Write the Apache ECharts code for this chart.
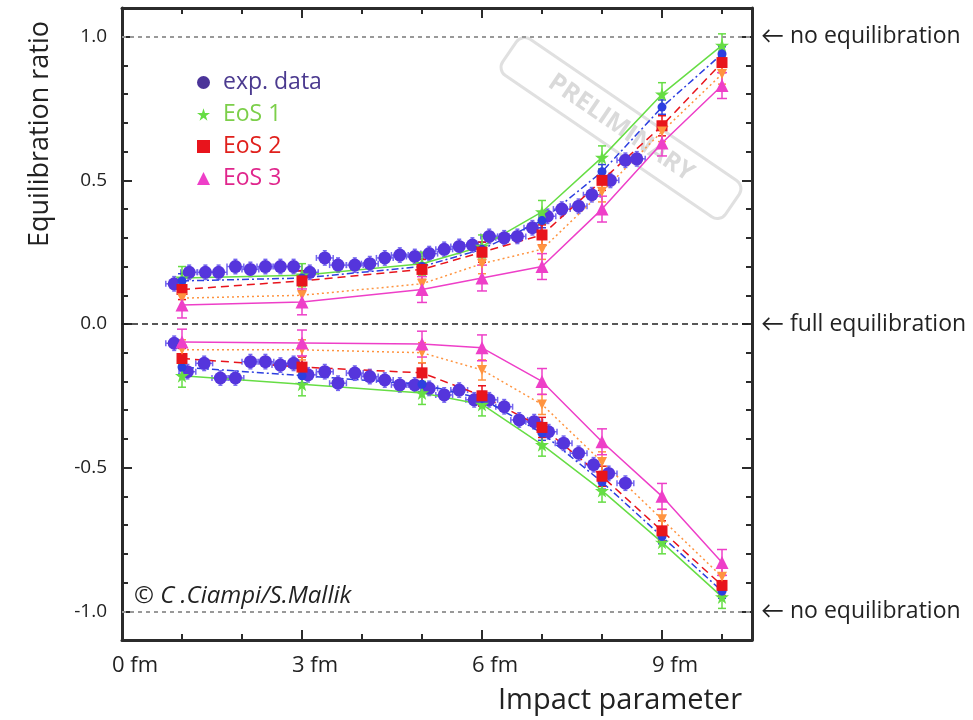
<!DOCTYPE html>
<html>
<head>
<meta charset="utf-8">
<script src="https://cdn.jsdelivr.net/npm/echarts@6/dist/echarts.min.js"></script>
<style>
  html, body { margin: 0; padding: 0; background: #fff; }
  #chart { width: 973px; height: 720px; }
</style>
</head>
<body>
<div id="chart"></div>
<script>
// ---- data ----
const xTicks = [0, 3, 6, 9];
const xMinorTicks = [1, 2, 4, 5, 7, 8, 10];
const yTicks = [-1, -0.5, 0, 0.5, 1];
const yMinorTicks = [-0.9, -0.8, -0.7, -0.6, -0.4, -0.3, -0.2, -0.1, 0.1, 0.2, 0.3, 0.4, 0.6, 0.7, 0.8, 0.9];

// experimental data (upper / lower branch)
const expUpX = [0.87, 1.12, 1.39, 1.61, 1.89, 2.14, 2.39, 2.64, 2.86, 3.13, 3.38, 3.6, 3.88, 4.13, 4.38, 4.63,
  4.88, 5.12, 5.37, 5.62, 5.84, 6.12, 6.37, 6.59, 6.84, 7.09, 7.33, 7.61, 7.83, 8.14, 8.39, 8.58];
const expUpY = [0.14, 0.18, 0.18, 0.18, 0.2, 0.19, 0.2, 0.2, 0.2, 0.18, 0.23, 0.205, 0.205, 0.21, 0.23, 0.24,
  0.235, 0.245, 0.26, 0.27, 0.275, 0.305, 0.3, 0.305, 0.335, 0.375, 0.4, 0.41, 0.45, 0.5, 0.57, 0.575];
const expLoX = [0.87, 1.09, 1.37, 1.64, 1.89, 2.14, 2.39, 2.64, 2.86, 3.1, 3.38, 3.6, 3.88, 4.13, 4.38, 4.63,
  4.88, 5.12, 5.37, 5.62, 5.87, 6.12, 6.37, 6.62, 6.87, 7.11, 7.36, 7.61, 7.86, 8.11, 8.39];
const expLoY = [-0.067, -0.166, -0.137, -0.188, -0.188, -0.131, -0.131, -0.143, -0.137, -0.177, -0.166, -0.206,
  -0.171, -0.183, -0.195, -0.212, -0.212, -0.224, -0.247, -0.23, -0.264, -0.264, -0.288, -0.334, -0.34,
  -0.375, -0.415, -0.45, -0.49, -0.52, -0.554];
const expErrX = 0.14;
const expErrY = 0.025;

// model calculations at fixed impact parameters
const modelX = [1, 3, 5, 6, 7, 8, 9, 10];
const eos1Up = [0.16, 0.17, 0.21, 0.27, 0.39, 0.58, 0.8, 0.97];
const eos1Lo = [-0.18, -0.21, -0.24, -0.28, -0.42, -0.58, -0.76, -0.95];
const dashUp = [0.15, 0.16, 0.2, 0.26, 0.36, 0.53, 0.755, 0.94];
const dashLo = [-0.15, -0.18, -0.21, -0.26, -0.38, -0.55, -0.74, -0.93];
const eos2Up = [0.12, 0.15, 0.19, 0.25, 0.31, 0.5, 0.69, 0.91];
const eos2Lo = [-0.12, -0.15, -0.17, -0.25, -0.36, -0.53, -0.72, -0.91];
const dotUp = [0.09, 0.1, 0.14, 0.21, 0.26, 0.46, 0.67, 0.87];
const dotLo = [-0.09, -0.09, -0.1, -0.16, -0.28, -0.48, -0.68, -0.88];
const eos3Up = [0.066, 0.077, 0.12, 0.16, 0.2, 0.4, 0.63, 0.83];
const eos3Lo = [-0.063, -0.066, -0.07, -0.083, -0.2, -0.41, -0.6, -0.83];
const modelErr = { eos1: 0.04, dash: 0.025, eos2: 0.035, dot: 0.035, eos3: 0.045 };

const refLines = [1, 0, -1];
const refLabels = ['← no equilibration', '← full equilibration', '← no equilibration'];

// ---- helpers ----
const FONT = "'Open Sans', Lato";
const starPath = 'path://M50,0 L61,35 L98,35 L68,57 L79,91 L50,70 L21,91 L32,57 L2,35 L39,35 Z';

function zip(xs, ys, ex, ey) {
  return xs.map((x, i) => [x, ys[i], ex, ey]);
}

// error bars drawn through the axes' own scale
function errorBars(color, cap) {
  return function (params, api) {
    const x = api.value(0), y = api.value(1), ex = api.value(2), ey = api.value(3);
    const lo = api.coord([x, y - ey]);
    const hi = api.coord([x, y + ey]);
    const st = { stroke: color, lineWidth: 1.5 };
    const kids = [
      { type: 'line', shape: { x1: lo[0], y1: lo[1], x2: hi[0], y2: hi[1] }, style: st },
      { type: 'line', shape: { x1: lo[0] - cap, y1: lo[1], x2: lo[0] + cap, y2: lo[1] }, style: st },
      { type: 'line', shape: { x1: hi[0] - cap, y1: hi[1], x2: hi[0] + cap, y2: hi[1] }, style: st }
    ];
    if (ex > 0) {
      const l = api.coord([x - ex, y]);
      const r = api.coord([x + ex, y]);
      kids.push({ type: 'line', shape: { x1: l[0], y1: l[1], x2: r[0], y2: r[1] }, style: st });
      kids.push({ type: 'line', shape: { x1: l[0], y1: l[1] - 3, x2: l[0], y2: l[1] + 3 }, style: st });
      kids.push({ type: 'line', shape: { x1: r[0], y1: r[1] - 3, x2: r[0], y2: r[1] + 3 }, style: st });
    }
    return { type: 'group', children: kids };
  };
}

function errSeries(name, data, color, cap) {
  return {
    name: name, type: 'custom', renderItem: errorBars(color, cap),
    data: data, silent: true, z: 2,
    encode: { x: 0, y: 1 }
  };
}

function modelSeries(name, ys, color, lineType, symbol, size, rotate) {
  return {
    name: name, type: 'line', data: modelX.map((x, i) => [x, ys[i]]),
    symbol: symbol, symbolSize: size, symbolRotate: rotate || 0, showSymbol: true,
    itemStyle: { color: color, opacity: 1 },
    lineStyle: { color: color, width: 1.5, type: lineType },
    z: 3, silent: true
  };
}

// grid 0 carries the frame + major ticks, grid 1 (same place) the minor ticks
const axisColor = '#2b2b2b';
function xAx(pos, major) {
  return {
    type: 'value', min: 0, max: 10.5, position: pos, gridIndex: major ? 0 : 1,
    axisLine: { show: major, onZero: false, lineStyle: { color: axisColor, width: 3 } },
    axisTick: { show: true, inside: true, length: major ? 10 : 6, customValues: major ? xTicks : xMinorTicks,
      lineStyle: { color: axisColor, width: 2 } },
    axisLabel: (pos === 'bottom' && major) ? {
      show: true, customValues: xTicks, formatter: v => v + ' fm', margin: 15,
      fontFamily: FONT, fontSize: 22, color: '#222', padding: [0, 0, 0, 26]
    } : { show: false },
    splitLine: { show: false }
  };
}
function yAx(pos, major) {
  return {
    type: 'value', min: -1.1, max: 1.1, position: pos, gridIndex: major ? 0 : 1,
    axisLine: { show: major, onZero: false, lineStyle: { color: axisColor, width: 3 } },
    axisTick: { show: true, inside: true, length: major ? 10 : 6, customValues: major ? yTicks : yMinorTicks,
      lineStyle: { color: axisColor, width: 2 } },
    axisLabel: (pos === 'left' && major) ? {
      show: true, customValues: yTicks, formatter: v => v.toFixed(1), margin: 15,
      fontFamily: FONT, fontSize: 19, color: '#222'
    } : { show: false },
    splitLine: { show: false }
  };
}

const chart = echarts.init(document.getElementById('chart'));
const gridBox = { left: 122, right: 221, top: 8, bottom: 80 };

const option = {
  animation: false,
  backgroundColor: '#fff',
  grid: [Object.assign({}, gridBox), Object.assign({}, gridBox)],
  xAxis: [xAx('bottom', true), xAx('top', true), xAx('bottom', false), xAx('top', false)],
  yAxis: [yAx('left', true), yAx('right', true), yAx('left', false), yAx('right', false)],
  legend: {
    orient: 'vertical', left: 192, top: 66, itemWidth: 13, itemHeight: 13, itemGap: 9,
    textStyle: { fontFamily: FONT, fontSize: 23, lineHeight: 23, padding: [0, 0, 0, 8] },
    selectedMode: false,
    data: [
      { name: 'exp. data', icon: 'circle', itemStyle: { color: '#4b3499' }, textStyle: { color: '#4b3a8f' } },
      { name: 'EoS 1', icon: starPath, textStyle: { color: '#7ccf4a' } },
      { name: 'EoS 2', icon: 'rect', textStyle: { color: '#e0201c' } },
      { name: 'EoS 3', icon: 'triangle', textStyle: { color: '#e0268c' } }
    ]
  },
  graphic: [
    {
      type: 'text', x: 40, y: 134, rotation: Math.PI / 2,
      style: { text: 'Equilibration ratio', fontFamily: FONT, fontSize: 27, fill: '#222',
        align: 'center', verticalAlign: 'middle' }
    },
    {
      type: 'text', x: 742, y: 701,
      style: { text: 'Impact parameter', fontFamily: FONT, fontSize: 29, fill: '#222',
        align: 'right', verticalAlign: 'middle' }
    },
    {
      type: 'text', x: 134, y: 596,
      style: { text: '© C .Ciampi/S.Mallik', fontFamily: FONT, fontStyle: 'italic', fontSize: 24, fill: '#222',
        verticalAlign: 'middle' }
    },
    {
      type: 'group', x: 621, y: 128, rotation: -0.6,
      children: [
        { type: 'rect', shape: { x: -135, y: -22, width: 270, height: 44, r: 10 },
          style: { fill: 'none', stroke: '#e0e0e0', lineWidth: 3 } },
        { type: 'text', style: { text: 'PRELIMINARY', x: 0, y: 0, align: 'center', verticalAlign: 'middle',
          fontFamily: FONT, fontWeight: 'bold', fontSize: 25, fill: '#dadada' } }
      ]
    }
  ],
  series: [
    errSeries('exp err up', zip(expUpX, expUpY, expErrX, expErrY), '#7466f0', 2),
    errSeries('exp err lo', zip(expLoX, expLoY, expErrX, expErrY), '#7466f0', 2),
    {
      name: 'exp. data', type: 'scatter', data: expUpX.map((x, i) => [x, expUpY[i]]),
      symbol: 'circle', symbolSize: 13, itemStyle: { color: '#5535dc', opacity: 1 }, z: 3, silent: true,
      markLine: {
        silent: true, symbol: ['none', 'none'],
        data: refLines.map((v, i) => ({
          yAxis: v,
          lineStyle: v === 0 ? { color: '#222', width: 1.5, type: [6, 4] } : { color: '#999', width: 2, type: [4, 4] },
          label: { show: true, position: 'end', distance: 9, formatter: refLabels[i],
            fontFamily: FONT, fontSize: 23, color: '#222' }
        }))
      }
    },
    {
      name: 'exp. data', type: 'scatter', data: expLoX.map((x, i) => [x, expLoY[i]]),
      symbol: 'circle', symbolSize: 13, itemStyle: { color: '#5535dc', opacity: 1 }, z: 3, silent: true
    },
    errSeries('eos1 err up', zip(modelX, eos1Up, 0, modelErr.eos1), '#66dd44', 4),
    errSeries('eos1 err lo', zip(modelX, eos1Lo, 0, modelErr.eos1), '#66dd44', 4),
    modelSeries('EoS 1', eos1Up, '#66dd44', 'solid', starPath, 14),
    modelSeries('EoS 1', eos1Lo, '#66dd44', 'solid', starPath, 14),
    errSeries('dash err up', zip(modelX, dashUp, 0, modelErr.dash), '#3344dd', 4),
    errSeries('dash err lo', zip(modelX, dashLo, 0, modelErr.dash), '#3344dd', 4),
    modelSeries('model dash', dashUp, '#2d3fe0', [7, 3, 2, 3], 'circle', 9),
    modelSeries('model dash', dashLo, '#2d3fe0', [7, 3, 2, 3], 'circle', 9),
    errSeries('eos2 err up', zip(modelX, eos2Up, 0, modelErr.eos2), '#e8141c', 4),
    errSeries('eos2 err lo', zip(modelX, eos2Lo, 0, modelErr.eos2), '#e8141c', 4),
    modelSeries('EoS 2', eos2Up, '#e8141c', [8, 5], 'rect', 11),
    modelSeries('EoS 2', eos2Lo, '#e8141c', [8, 5], 'rect', 11),
    errSeries('dot err up', zip(modelX, dotUp, 0, modelErr.dot), '#ff9440', 4),
    errSeries('dot err lo', zip(modelX, dotLo, 0, modelErr.dot), '#ff9440', 4),
    modelSeries('model dot', dotUp, '#ff9440', [2, 3], 'triangle', 10, 180),
    modelSeries('model dot', dotLo, '#ff9440', [2, 3], 'triangle', 10, 180),
    errSeries('eos3 err up', zip(modelX, eos3Up, 0, modelErr.eos3), '#ee3fc8', 5),
    errSeries('eos3 err lo', zip(modelX, eos3Lo, 0, modelErr.eos3), '#ee3fc8', 5),
    modelSeries('EoS 3', eos3Up, '#ee3fc8', 'solid', 'triangle', 13),
    modelSeries('EoS 3', eos3Lo, '#ee3fc8', 'solid', 'triangle', 13)
  ]
};

chart.setOption(option);
</script>
</body>
</html>
